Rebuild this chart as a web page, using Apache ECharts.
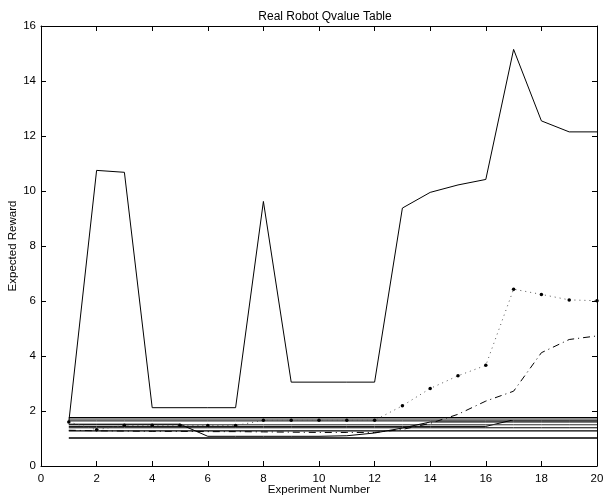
<!DOCTYPE html>
<html><head><meta charset="utf-8">
<script src="https://cdn.jsdelivr.net/npm/echarts@6/dist/echarts.min.js"></script>
<style>html,body{margin:0;padding:0;background:#fff}#c{width:603px;height:499px}</style>
</head><body><div id="c"></div>
<script>
const experiments = [1,2,3,4,5,6,7,8,9,10,11,12,13,14,15,16,17,18,19,20];
const xTicks = [0,2,4,6,8,10,12,14,16,18,20];
const yTicks = [0,2,4,6,8,10,12,14,16];
const qTop    = [1.6,10.75,10.68,2.12,2.12,2.12,2.12,9.62,3.05,3.05,3.05,3.05,9.38,9.95,10.22,10.42,15.15,12.55,12.15,12.15];
const qDotted = [1.6,1.32,1.48,1.48,1.48,1.47,1.47,1.66,1.66,1.66,1.66,1.66,2.19,2.82,3.28,3.66,6.43,6.24,6.04,6.01];
const qDashDot= [1.3,1.28,1.27,1.26,1.26,1.25,1.25,1.24,1.23,1.22,1.22,1.22,1.33,1.55,1.88,2.36,2.72,4.12,4.6,4.73];
const qFlatA  = [1.76,1.76,1.76,1.76,1.76,1.76,1.76,1.76,1.76,1.76,1.76,1.76,1.76,1.76,1.76,1.76,1.76,1.76,1.76,1.76];
const qFlatB  = [1.70,1.70,1.70,1.70,1.70,1.70,1.70,1.70,1.70,1.70,1.70,1.70,1.70,1.70,1.70,1.70,1.70,1.70,1.70,1.70];
const qFlatC  = [1.64,1.64,1.64,1.64,1.64,1.64,1.64,1.64,1.64,1.64,1.64,1.64,1.64,1.64,1.64,1.64,1.64,1.64,1.64,1.64];
const qDrop   = [1.52,1.52,1.52,1.52,1.52,1.08,1.08,1.08,1.08,1.08,1.1,1.2,1.38,1.6,1.6,1.6,1.6,1.6,1.6,1.6];
const qFlatD  = [1.50,1.50,1.50,1.50,1.50,1.50,1.50,1.50,1.50,1.50,1.50,1.50,1.50,1.50,1.50,1.50,1.50,1.50,1.50,1.50];
const qStep   = [1.44,1.44,1.44,1.44,1.44,1.44,1.44,1.44,1.44,1.44,1.44,1.44,1.44,1.44,1.44,1.44,1.68,1.68,1.68,1.68];
const qFlatE  = [1.39,1.39,1.39,1.39,1.39,1.39,1.39,1.39,1.39,1.39,1.39,1.39,1.39,1.39,1.39,1.39,1.39,1.39,1.39,1.39];
const qFlatF  = [1.28,1.28,1.28,1.28,1.28,1.28,1.28,1.28,1.28,1.28,1.28,1.28,1.28,1.28,1.28,1.28,1.28,1.28,1.28,1.28];
const qFlatG  = [1.02,1.02,1.02,1.02,1.02,1.02,1.02,1.02,1.02,1.02,1.02,1.02,1.02,1.02,1.02,1.02,1.02,1.02,1.02,1.02];

const pairs = arr => experiments.map((x,i)=>[x,arr[i]]);
const font = 'Liberation Sans, Arial, sans-serif';
const line = (data, opts) => Object.assign({
  type:'line', data: pairs(data), symbol:'none', animation:false, silent:true,
  lineStyle:{color:'#000', width:1}
}, opts||{});

const axisCommon = {
  type:'value', axisLine:{show:true, onZero:false, lineStyle:{color:'#000', width:1}},
  axisTick:{show:true, inside:true, length:5, lineStyle:{color:'#000'}},
  splitLine:{show:false}
};

const chart = echarts.init(document.getElementById('c'));
chart.setOption({
  backgroundColor:'#fff',
  animation:false,
  title:{text:'Real Robot Qvalue Table', left:320, top:6, textAlign:'center',
    textStyle:{fontFamily:font, fontSize:12, fontWeight:'normal', color:'#000'}},
  grid:{left:41, right:6, top:26, bottom:33, containLabel:false, outerBoundsMode:'none'},
  xAxis:[
    Object.assign({}, axisCommon, {min:0, max:20, interval:2, position:'bottom',
      name:'Experiment Number', nameLocation:'middle', nameGap:18, nameMoveOverlap:false,
      nameTextStyle:{fontFamily:font, fontSize:11.5, color:'#000'},
      axisLabel:{fontFamily:font, fontSize:11.5, color:'#000', margin:7,
        formatter: v => xTicks.includes(v) ? String(v) : ''}}),
    Object.assign({}, axisCommon, {min:0, max:20, interval:2, position:'top', axisLabel:{show:false}})
  ],
  yAxis:[
    Object.assign({}, axisCommon, {min:0, max:16, interval:2, position:'left',
      name:'Expected Reward', nameLocation:'middle', nameGap:22, nameMoveOverlap:false,
      nameTextStyle:{fontFamily:font, fontSize:11.5, color:'#000'},
      axisLabel:{fontFamily:font, fontSize:11.5, color:'#000', margin:5,
        formatter: v => yTicks.includes(v) ? String(v) : ''}}),
    Object.assign({}, axisCommon, {min:0, max:16, interval:2, position:'right', axisLabel:{show:false}})
  ],
  series:[
    line(qFlatG, {lineStyle:{color:'#000', width:1.6}}),
    line(qFlatF, {lineStyle:{color:'#000', width:1.2}}),
    line(qFlatE),
    line(qStep),
    line(qFlatD, {lineStyle:{color:'#333', width:1}}),
    line(qDrop),
    line(qFlatC),
    line(qFlatB, {lineStyle:{color:'#888', width:1.5}}),
    line(qFlatA, {lineStyle:{color:'#000', width:1.3}}),
    line(qDashDot, {lineStyle:{color:'#000', width:1, type:[7,4,1,4]}}),
    line(qDotted, {symbol:'circle', symbolSize:3.5, itemStyle:{color:'#000'},
      lineStyle:{color:'#555', width:1, type:[1,4]}}),
    line(qTop)
  ]
});
</script></body></html>
